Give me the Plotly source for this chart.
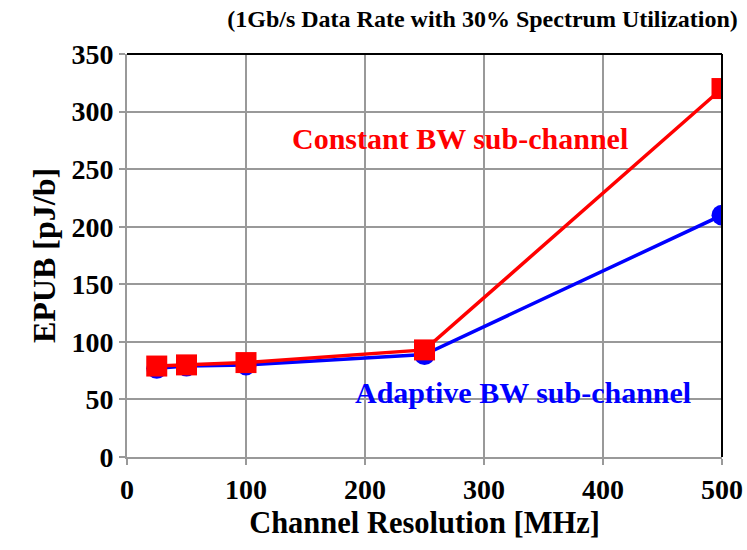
import plotly.graph_objects as go

resolution_mhz = [25, 50, 100, 250, 500]
epub_adaptive = [77, 79, 80, 89, 210]
epub_constant = [79, 80, 82, 93, 320]

FONT = "Liberation Serif, Times New Roman, serif"
BOLD = dict(family=FONT, size=28, color="black", weight="bold")

fig = go.Figure()
fig.add_trace(go.Scatter(
    x=resolution_mhz, y=epub_adaptive, mode="lines+markers",
    line=dict(color="#0000ff", width=3.5),
    marker=dict(symbol="circle", size=21, color="#0000ff"),
    name="Adaptive BW sub-channel",
))
fig.add_trace(go.Scatter(
    x=resolution_mhz, y=epub_constant, mode="lines+markers",
    line=dict(color="#ff0000", width=3.5),
    marker=dict(symbol="square", size=21, color="#ff0000"),
    name="Constant BW sub-channel",
))

# plot frame: black top/right edges
fig.add_shape(type="line", xref="paper", yref="paper", x0=0, x1=1, y0=1, y1=1,
              line=dict(color="black", width=2))
fig.add_shape(type="line", xref="paper", yref="paper", x0=1, x1=1, y0=0, y1=1,
              line=dict(color="black", width=2))

fig.add_annotation(x=280, y=277, text="Constant BW sub-channel", showarrow=False,
                   font=dict(family=FONT, size=30, color="#ff0000", weight="bold"))
fig.add_annotation(x=333, y=56, text="Adaptive BW sub-channel", showarrow=False,
                   font=dict(family=FONT, size=30, color="#0000ff", weight="bold"))

fig.update_layout(
    width=747, height=550,
    template="plotly_white",
    showlegend=False,
    paper_bgcolor="white", plot_bgcolor="white",
    margin=dict(l=127, r=25, t=54, b=93),
    font=BOLD,
    title=dict(text="(1Gb/s Data Rate with 30% Spectrum Utilization)",
               x=0.646, xanchor="center", y=0.967, yanchor="middle",
               font=dict(family=FONT, size=24, color="black", weight="bold")),
)
fig.update_xaxes(
    range=[0, 500], tickvals=[0, 100, 200, 300, 400, 500],
    tickfont=BOLD, automargin=False,
    showgrid=True, gridcolor="#999999", gridwidth=2,
    showline=True, linecolor="#999999", linewidth=2,
    ticks="outside", tickcolor="#999999", ticklen=6, tickwidth=2,
    zeroline=False,
    title=dict(text="Channel Resolution [MHz]", font=dict(family=FONT, size=30.5, weight="bold"), standoff=8),
)
fig.update_yaxes(
    range=[0, 350], tickvals=[0, 50, 100, 150, 200, 250, 300, 350],
    tickfont=BOLD, automargin=False,
    showgrid=True, gridcolor="#999999", gridwidth=2,
    showline=True, linecolor="#999999", linewidth=2,
    ticks="outside", tickcolor="#999999", ticklen=6, tickwidth=2,
    zeroline=False,
    title=dict(text="EPUB [pJ/b]", font=dict(family=FONT, size=32, weight="bold"), standoff=6),
)

# drop the default 8px body margin so the 747x550 figure fills the window
fig.write_html("out.html", config={"displayModeBar": False},
               post_script="document.body.style.margin='0';")
